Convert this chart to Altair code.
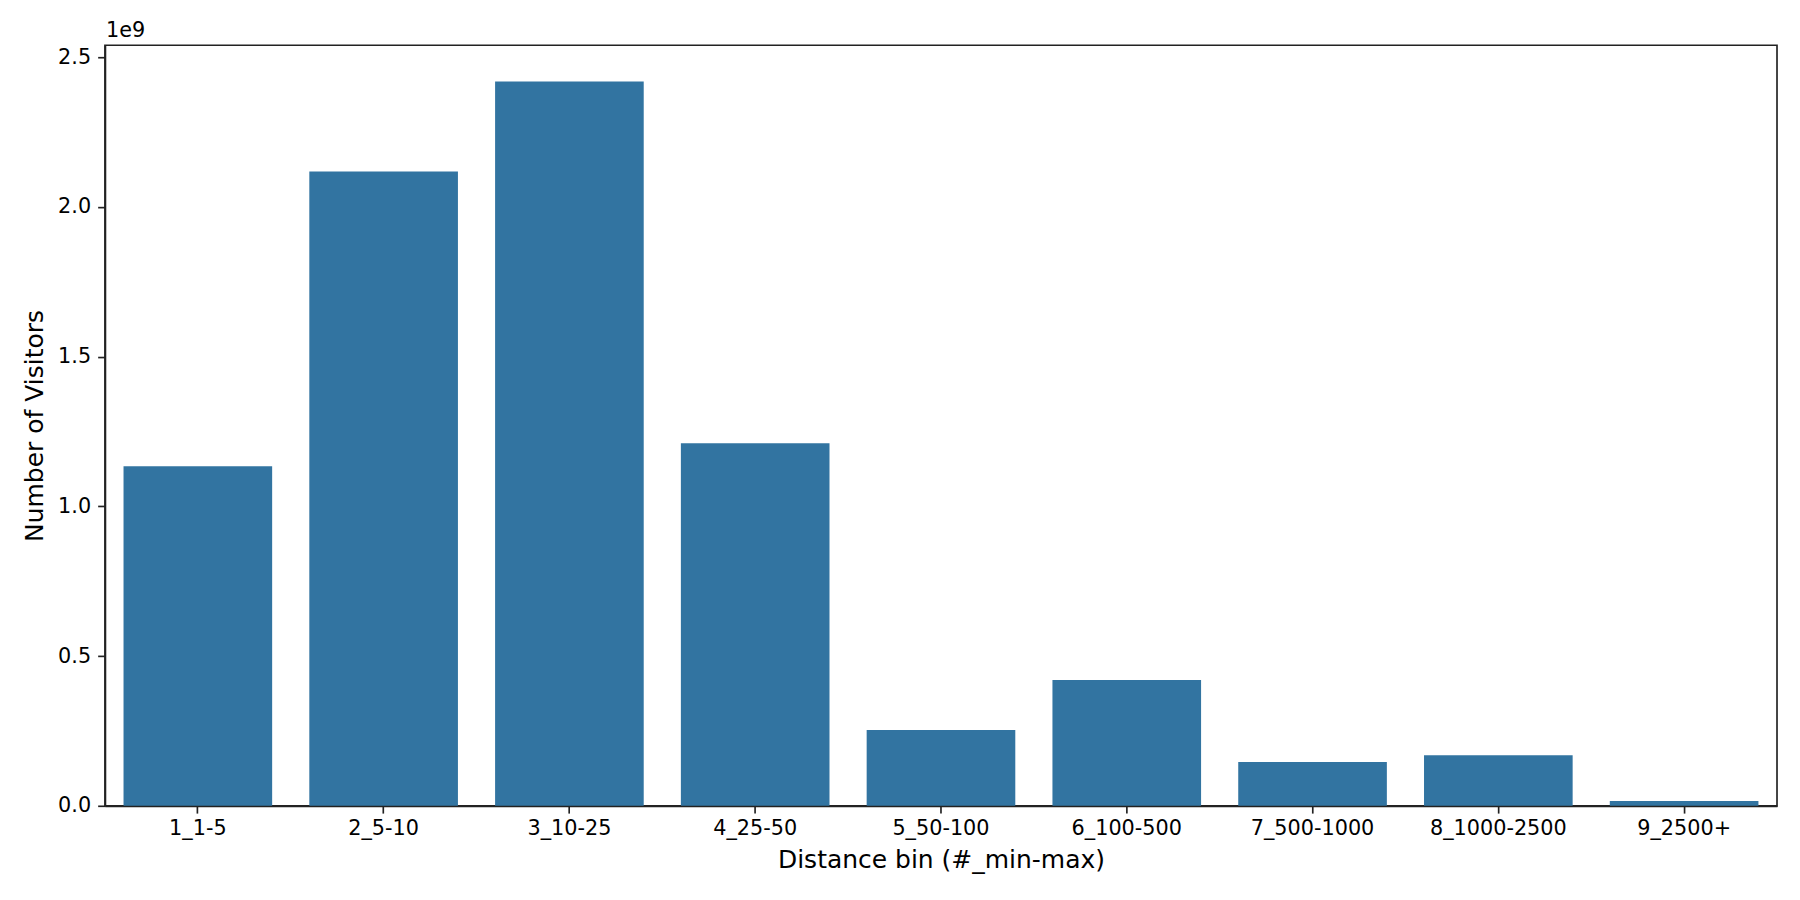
import altair as alt
import pandas as pd

bins = ["1_1-5", "2_5-10", "3_10-25", "4_25-50", "5_50-100",
        "6_100-500", "7_500-1000", "8_1000-2500", "9_2500+"]
visitors = [1.134e9, 2.118e9, 2.419e9, 1.211e9, 0.253e9,
            0.420e9, 0.146e9, 0.169e9, 0.0157e9]
y_ticks = [0.0, 0.5e9, 1.0e9, 1.5e9, 2.0e9, 2.5e9]

df = pd.DataFrame({"bin": bins, "visitors": visitors})

FONT = "DejaVu Sans"
DARK = "#222222"

chart = alt.Chart(df).mark_bar(color="#3274a1").encode(
    x=alt.X("bin:N", sort=bins, title="Distance bin (#_min-max)",
            scale=alt.Scale(paddingInner=0.2, paddingOuter=0.1),
            axis=alt.Axis(labelAngle=0, labelPadding=5, titlePadding=10)),
    y=alt.Y("visitors:Q", title="Number of Visitors",
            scale=alt.Scale(domain=[0, 2.54e9], nice=False, zero=True),
            axis=alt.Axis(values=y_ticks,
                          labelExpr="format(datum.value / 1e9, '.1f')",
                          labelPadding=7, titlePadding=10)),
).properties(
    width=1673, height=761,
    background="white",
    title=alt.TitleParams("1e9", anchor="start", frame="group", fontSize=20.8,
                          fontWeight="normal", font=FONT, color="black",
                          offset=3, dx=1),
    autosize=alt.AutoSizeParams(type="none"),
    padding={"left": 97, "top": 37, "right": 15, "bottom": 86},
).configure_view(
    stroke=DARK, strokeWidth=1.67
).configure_axis(
    grid=False, domainColor=DARK, domainWidth=1.67,
    tickColor=DARK, tickWidth=1.67, tickSize=7.3,
    labelFont=FONT, labelFontSize=20.8, labelColor="black",
    titleFont=FONT, titleFontSize=25, titleFontWeight="normal", titleColor="black",
)

chart.save("out.html", embed_options={"renderer": "svg", "actions": False})
